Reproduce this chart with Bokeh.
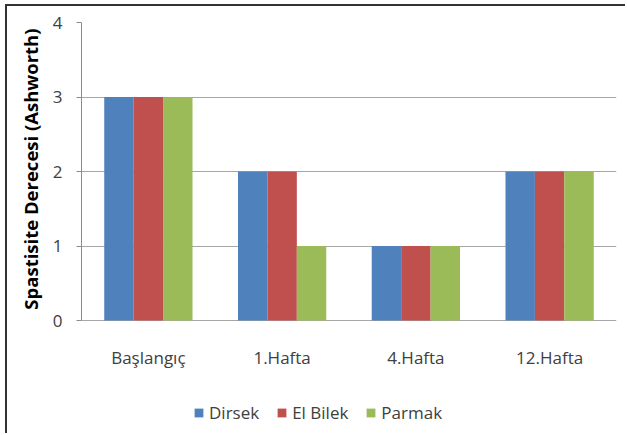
from bokeh.plotting import figure
from bokeh.models import (FactorRange, Legend, LegendItem, FixedTicker,
                          ColumnDataSource, Title, Range1d)
from bokeh.core.properties import value
from bokeh.transform import dodge
from bokeh.embed import file_html
from bokeh.resources import INLINE

# Ashworth spasticity grades per time point and joint
periods = ["Başlangıç", "1.Hafta", "4.Hafta", "12.Hafta"]
dirsek = [3, 2, 1, 2]
el_bilek = [3, 2, 1, 2]
parmak = [3, 1, 1, 2]
series_names = ["Dirsek", "El Bilek", "Parmak"]
series_colors = ["#4F81BD", "#C0504D", "#9BBB59"]
y_ticks = [0, 1, 2, 3, 4]

FONT = "Open Sans"
TEXT_GREY = "#404040"
AXIS_GREY = "#8c8c8c"

source = ColumnDataSource(dict(period=periods, Dirsek=dirsek,
                               ElBilek=el_bilek, Parmak=parmak))

# The plotting frame reaches down to the legend row; the value axis
# itself only spans 0..4 (about 74.5 px per grade).
y_lo = -110 / 74.5
p = figure(x_range=FactorRange(*periods, range_padding=0),
           y_range=Range1d(y_lo, 4),
           width=620, height=429, output_backend="svg",
           toolbar_location=None,
           min_border_left=74, min_border_right=11,
           min_border_top=16, min_border_bottom=5,
           # dark frame line on the top and left of the chart
           styles={"border-left": "2px solid #333333",
                   "border-top": "2px solid #333333",
                   "margin-left": "5px", "margin-top": "4px"})
p.outline_line_color = None
p.background_fill_color = "white"
p.border_fill_color = "white"

bar_w = 0.22
columns = ["Dirsek", "ElBilek", "Parmak"]
offsets = [-bar_w, 0.0, bar_w]
renderers = []
for col, off, color in zip(columns, offsets, series_colors):
    r = p.vbar(x=dodge("period", off, range=p.x_range), top=col, bottom=0,
               width=bar_w, source=source, fill_color=color, line_color=None)
    renderers.append(r)

# value axis, limited to the 0..4 grades
p.yaxis.ticker = FixedTicker(ticks=y_ticks)
p.yaxis.bounds = (0, 4)
p.yaxis.major_label_text_font = FONT
p.yaxis.major_label_text_font_size = "17px"
p.yaxis.major_label_text_color = TEXT_GREY
p.yaxis.major_label_standoff = 14
p.yaxis.major_tick_out = 5
p.yaxis.major_tick_in = 0
p.yaxis.minor_tick_line_color = None
p.yaxis.axis_line_color = AXIS_GREY
p.yaxis.major_tick_line_color = AXIS_GREY

# axis title, just below the top of the value axis
p.add_layout(Title(text="Spastisite Derecesi (Ashworth)", align="right",
                   offset=6, standoff=14, text_font=FONT,
                   text_font_style="bold", text_font_size="18.5px",
                   text_color="#000000"), "left")

# category axis: labels drawn under the zero line
p.xaxis.visible = False
p.text(x=periods, y=0, text=periods, y_offset=37,
       text_align="center", text_baseline="middle",
       text_font=value(FONT), text_font_size="17px", text_color=TEXT_GREY)

p.xgrid.grid_line_color = None
p.ygrid.grid_line_color = "#a6a6a6"
p.ygrid.grid_line_width = 1
p.ygrid.ticker = FixedTicker(ticks=y_ticks)

legend = Legend(items=[LegendItem(label=n, renderers=[r])
                       for n, r in zip(series_names, renderers)],
                orientation="horizontal", location=(112, 6),
                glyph_width=11, glyph_height=11, label_standoff=5,
                spacing=17, padding=0, margin=0,
                border_line_color=None, background_fill_alpha=0,
                label_text_font=FONT, label_text_font_size="17px",
                label_text_color=TEXT_GREY)
p.add_layout(legend, "center")

open("out.html", "w").write(file_html(p, INLINE))
